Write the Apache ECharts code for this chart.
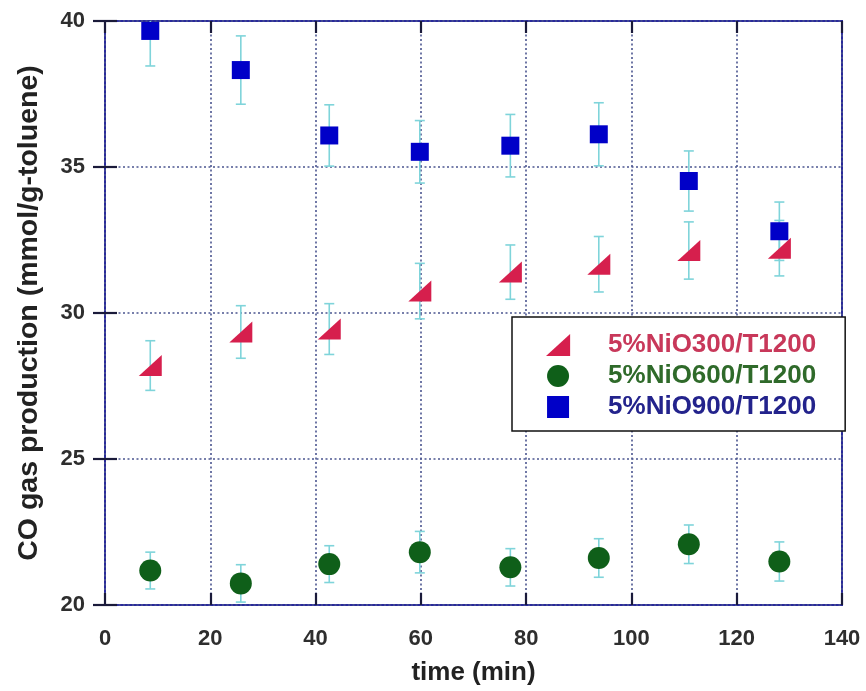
<!DOCTYPE html>
<html>
<head>
<meta charset="utf-8">
<script src="https://cdn.jsdelivr.net/npm/echarts@6/dist/echarts.min.js"></script>
<style>
html,body{margin:0;padding:0;background:#fff;}
#chart{width:866px;height:691px;}
</style>
</head>
<body>
<div id="chart"></div>
<script>
// ---- data ----
const timeMin = [8.6, 25.8, 42.6, 59.8, 77.0, 93.8, 110.9, 128.1];
const seriesNames = ['5%NiO300/T1200', '5%NiO600/T1200', '5%NiO900/T1200'];
const nio300 = [28.2, 29.35, 29.45, 30.75, 31.4, 31.67, 32.14, 32.22];
const nio300Err = [0.85, 0.9, 0.87, 0.95, 0.93, 0.95, 0.98, 0.95];
const nio600 = [21.18, 20.74, 21.4, 21.81, 21.29, 21.61, 22.08, 21.49];
const nio600Err = [0.63, 0.64, 0.63, 0.71, 0.64, 0.66, 0.66, 0.67];
const nio900 = [39.66, 38.32, 36.08, 35.52, 35.73, 36.12, 34.52, 32.8];
const nio900Err = [1.2, 1.17, 1.05, 1.07, 1.07, 1.08, 1.03, 1.0];
const xTicks = {min: 0, max: 140, interval: 20};
const yTicks = {min: 20, max: 40, interval: 5};

const colors = ['#d61f4d', '#0f5f19', '#0000c8'];
const legendColors = ['#c8385a', '#2f6a2a', '#23238c'];
const triPath = 'path://M0,21 L23,21 L23,0 Z';
const sqPath = 'path://M0,0 L18,0 L18,18 L0,18 Z';
const symbols = [triPath, 'circle', 'rect'];
const legendIcons = [triPath, 'circle', sqPath];
const symbolSizes = [[23, 21], 22, 18];

function pts(vals) { return timeMin.map((t, i) => [t, vals[i]]); }
function errPts(vals, errs) { return timeMin.map((t, i) => [t, vals[i], errs[i]]); }

const errColor = '#7fd4da';
function renderErr(params, api) {
  const x = api.value(0), y = api.value(1), e = api.value(2);
  const top = api.coord([x, y + e]);
  const bot = api.coord([x, y - e]);
  const hw = 5;
  const st = {stroke: errColor, lineWidth: 1.6};
  return {
    type: 'group',
    children: [
      {type: 'line', shape: {x1: top[0], y1: top[1], x2: bot[0], y2: bot[1]}, style: st},
      {type: 'line', shape: {x1: top[0] - hw, y1: top[1], x2: top[0] + hw, y2: top[1]}, style: st},
      {type: 'line', shape: {x1: bot[0] - hw, y1: bot[1], x2: bot[0] + hw, y2: bot[1]}, style: st}
    ]
  };
}

const chart = echarts.init(document.getElementById('chart'), null, {renderer: 'canvas'});
const font = 'Liberation Sans, Arial, sans-serif';
const gridDots = {show: true, lineStyle: {color: '#4b5590', type: [2, 2.5], width: 1.6}};
const tickStyle = {show: true, inside: true, length: 12, lineStyle: {color: '#1a1a3a', width: 2.2}};

const errSets = [[nio300, nio300Err], [nio600, nio600Err], [nio900, nio900Err]];
const series = [];
errSets.forEach((s, i) => {
  series.push({
    type: 'custom', name: seriesNames[i] + ' err', renderItem: renderErr,
    data: errPts(s[0], s[1]), clip: true, z: 1, silent: true,
    encode: {x: 0, y: 1}
  });
});
errSets.forEach((s, i) => {
  series.push({
    type: 'scatter', name: seriesNames[i], data: pts(s[0]),
    symbol: symbols[i], symbolSize: symbolSizes[i], symbolKeepAspect: false,
    itemStyle: {color: colors[i], opacity: 1}, z: 5
  });
});

chart.setOption({
  animation: false,
  backgroundColor: '#ffffff',
  grid: {left: 105, right: 24, top: 21, bottom: 84, show: true, borderColor: '#2a2a9c', borderWidth: 2},
  xAxis: [{
    type: 'value', min: xTicks.min, max: xTicks.max, interval: xTicks.interval,
    name: 'time (min)', nameLocation: 'middle', nameGap: 55,
    nameTextStyle: {fontFamily: font, fontWeight: 'bold', fontSize: 26, color: '#222'},
    axisLine: {show: false}, axisTick: tickStyle, splitLine: gridDots,
    axisLabel: {margin: 23, fontFamily: font, fontWeight: 'bold', fontSize: 22, color: '#2e2e2e'}
  }, {
    type: 'value', position: 'top', min: xTicks.min, max: xTicks.max, interval: xTicks.interval,
    axisLine: {show: false}, axisTick: tickStyle, splitLine: {show: false}, axisLabel: {show: false}
  }],
  yAxis: [{
    type: 'value', min: yTicks.min, max: yTicks.max, interval: yTicks.interval,
    name: 'CO gas production (mmol/g-toluene)', nameLocation: 'middle', nameGap: 61,
    nameTextStyle: {fontFamily: font, fontWeight: 'bold', fontSize: 28.5, color: '#222'},
    axisLine: {show: false}, axisTick: tickStyle, splitLine: gridDots,
    axisLabel: {margin: 20, fontFamily: font, fontWeight: 'bold', fontSize: 22, color: '#2e2e2e'}
  }, {
    type: 'value', position: 'right', min: yTicks.min, max: yTicks.max, interval: yTicks.interval,
    axisLine: {show: false}, axisTick: tickStyle, splitLine: {show: false}, axisLabel: {show: false}
  }],
  legend: {
    orient: 'vertical', left: 512, top: 317,
    padding: [15, 29, 11, 34],
    backgroundColor: '#ffffff', borderColor: '#111', borderWidth: 1.5,
    itemWidth: 40, itemHeight: 22, itemGap: 5, symbolKeepAspect: true,
    textStyle: {fontFamily: font, fontWeight: 'bold', fontSize: 26, lineHeight: 26, padding: [0, 0, 0, 25]},
    data: seriesNames.map((n, i) => ({name: n, icon: legendIcons[i], textStyle: {color: legendColors[i]}}))
  },
  series: series
});
</script>
</body>
</html>
